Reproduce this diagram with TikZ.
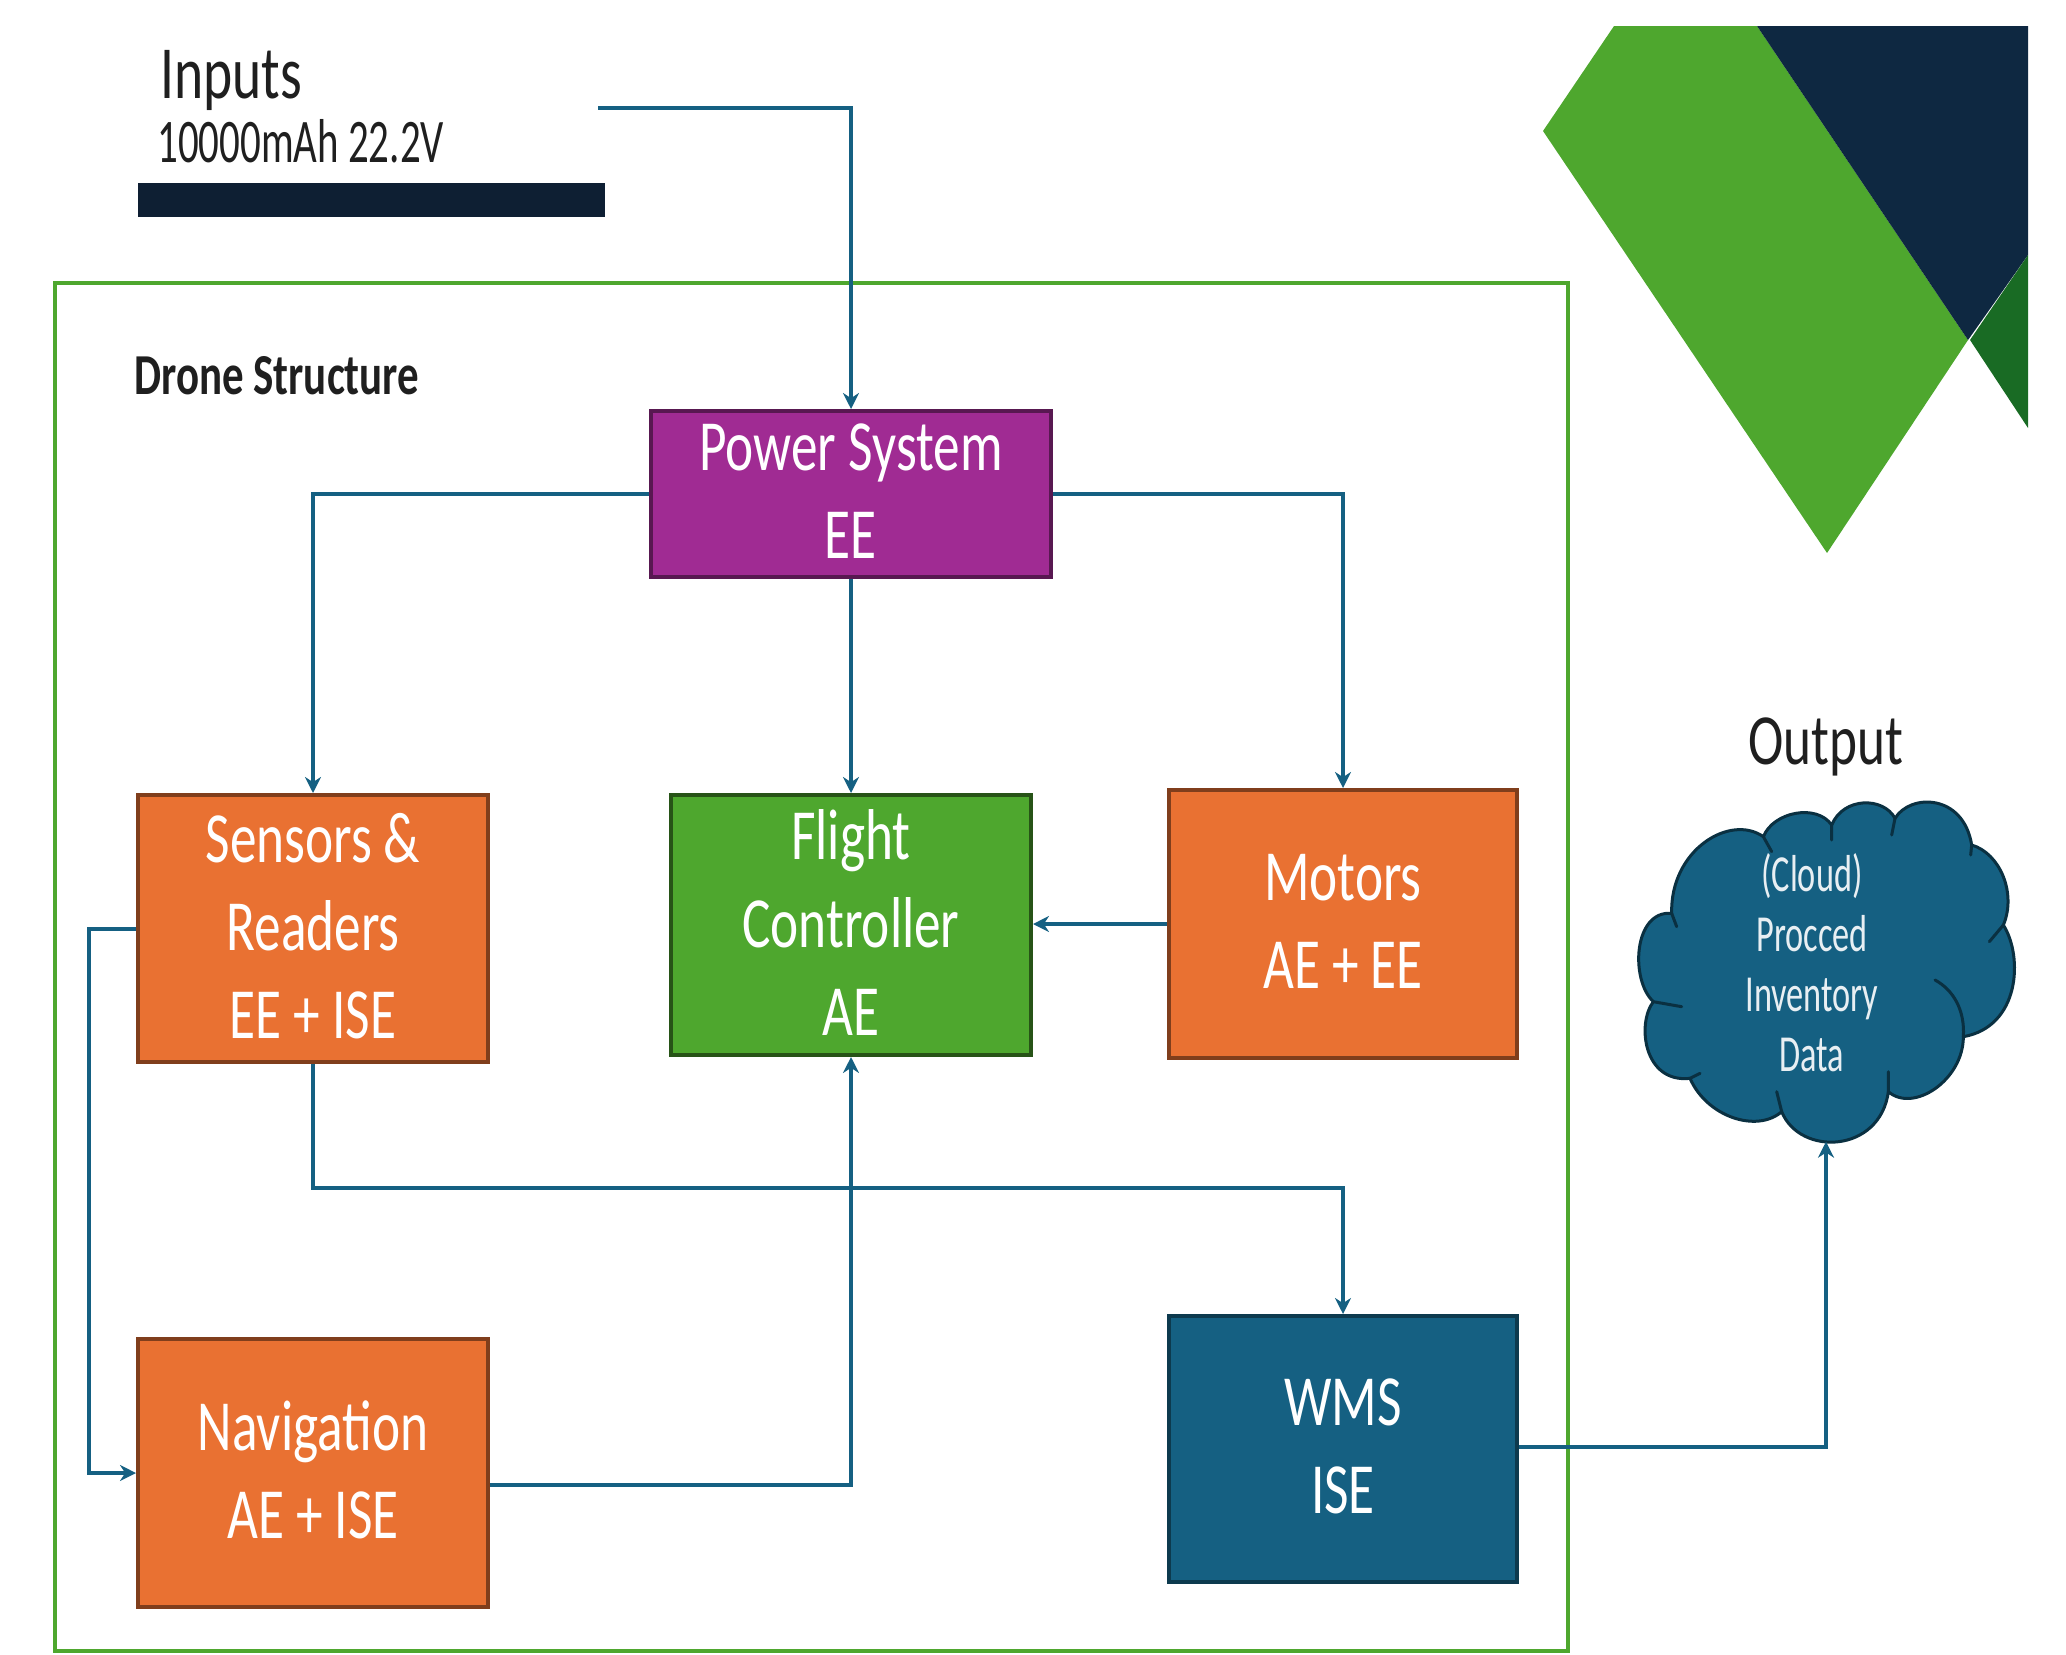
\documentclass[tikz,border=0pt]{standalone}
\usepackage{fontspec}
\setmainfont[FakeStretch=0.74]{Carlito}
\newfontfamily\narrowf[FakeStretch=0.66]{Carlito}
\usetikzlibrary{arrows.meta}
\definecolor{conn}{HTML}{156082}
\definecolor{lgreen}{HTML}{4EA72E}
\definecolor{dgreen}{HTML}{196B24}
\definecolor{navy}{HTML}{0E2841}
\definecolor{barc}{HTML}{0E1F33}
\definecolor{purp}{HTML}{A02B93}
\definecolor{orng}{HTML}{E97132}
\tikzset{
  blockbox/.style={draw, line width=2pt, align=center, text=white, inner sep=0pt, text depth=3pt,
    font=\fontsize{36}{44}\selectfont},
  conline/.style={draw=conn, line width=2pt, -{Stealth[length=8pt,width=8pt]}},
  bigtxt/.style={inner sep=0pt, text=black!88},
}
\begin{document}
\begin{tikzpicture}[x=0.5pt,y=-0.5pt]
\useasboundingbox (0,0) rectangle (2066,1654);
% decoration
\fill[lgreen] (1543,131) -- (1614,26) -- (1757,26) -- (1968,340) -- (1827,553) -- cycle;
\fill[navy] (1757,26) -- (2028,26) -- (2028,255) -- (1968,340) -- cycle;
\fill[dgreen] (2028,255) -- (1970,340) -- (2028,428) -- cycle;
% frame and bar
\draw[lgreen, line width=2.2pt] (55,283) rectangle (1568,1651);
\fill[barc] (138,183) rectangle (605,217);
% labels
\node[bigtxt, anchor=base west, font=\fontsize{37.5}{40}\selectfont] (inputs) at (160,98) {Inputs};
\node[bigtxt, anchor=base west, font=\narrowf\fontsize{31}{36}\selectfont] (capacity) at (157,162) {10000mAh 22.2V};
\node[bigtxt, anchor=base west, font=\bfseries\fontsize{29}{34}\selectfont] (struct) at (134,394) {Drone Structure};
\node[bigtxt, anchor=base, font=\fontsize{36}{40}\selectfont] (output) at (1826,764) {Output};
% boxes
\node[blockbox, fill=purp, draw=purp!55!black, minimum width=200pt, minimum height=83pt] (power) at (851,494) {Power System\\EE};
\node[blockbox, fill=orng, draw=orng!55!black, minimum width=175pt, minimum height=133.5pt] (sensors) at (313,928.5) {Sensors \&\\Readers\\EE + ISE};
\node[blockbox, fill=lgreen, draw=lgreen!50!black, minimum width=180pt, minimum height=130pt] (flight) at (851,925) {Flight\\Controller\\AE};
\node[blockbox, fill=orng, draw=orng!55!black, minimum width=174pt, minimum height=134pt] (motors) at (1343,924) {Motors\\AE + EE};
\node[blockbox, fill=orng, draw=orng!55!black, minimum width=175pt, minimum height=134pt] (nav) at (313,1473) {Navigation\\AE + ISE};
\node[blockbox, fill=conn, draw=conn!60!black, minimum width=174pt, minimum height=133pt] (wms) at (1343,1449) {WMS\\ISE};
% cloud
\begin{scope}[shift={(1600,680)},x=0.16667pt,y=-0.16667pt]
\filldraw[fill=conn, draw=conn!50!black, line width=1.5pt, line join=round]
  (490,470) .. controls (520,395) and (650,370) .. (695,435)
  .. controls (730,350) and (850,350) .. (885,415)
  .. controls (930,340) and (1090,340) .. (1115,495)
  .. controls (1200,520) and (1250,640) .. (1210,735)
  .. controls (1270,830) and (1260,1040) .. (1090,1070)
  .. controls (1090,1200) and (940,1300) .. (865,1235)
  .. controls (840,1420) and (600,1430) .. (545,1295)
  .. controls (470,1360) and (320,1310) .. (270,1195)
  .. controls (130,1210) and (110,1030) .. (160,965)
  .. controls (90,900) and (100,690) .. (215,700)
  .. controls (210,510) and (390,400) .. (490,470) -- cycle;
\draw[conn!50!black, line width=1.5pt, line cap=round]
  (490,470) -- (515,515)
  (695,435) -- (695,480)
  (885,415) -- (875,465)
  (1115,495) -- (1112,525)
  (1210,735) -- (1168,785)
  (1090,1070) .. controls (1095,990) and (1060,930) .. (1005,900)
  (865,1235) -- (865,1175)
  (545,1295) -- (530,1235)
  (270,1195) -- (300,1180)
  (160,965) -- (245,980)
  (215,700) -- (230,740);
\coordinate (cloudbottom) at (678,1385);
\end{scope}
\node[align=center, inner sep=0pt, text=white!90!conn, font=\narrowf\fontsize{26}{30}\selectfont] (cloudtext) at (1812,963) {(Cloud)\\Procced\\Inventory\\Data};
% connectors
\coordinate (inputstart) at (598,108);
\coordinate (inputcorner) at (851,108);
\coordinate (midbus) at (851,1188);
\draw[conline] (inputstart) -- (inputcorner) -- (power.north);
\draw[conline] (power.west) -| (sensors.north);
\draw[conline] (power.east) -| (motors.north);
\draw[conline] (power.south) -- (flight.north);
\draw[conline] (motors.west) -- (motors.west -| flight.east);
\draw[conline] (sensors.west) -- ++(-47,0) |- (nav.west);
\draw[conline] (sensors.south) |- (midbus) -| (wms.north);
\draw[conline] ([yshift=-6pt]nav.east) -| (flight.south);
\draw[conline] ([yshift=1pt]wms.east) -| (cloudbottom);
\end{tikzpicture}
\end{document}
